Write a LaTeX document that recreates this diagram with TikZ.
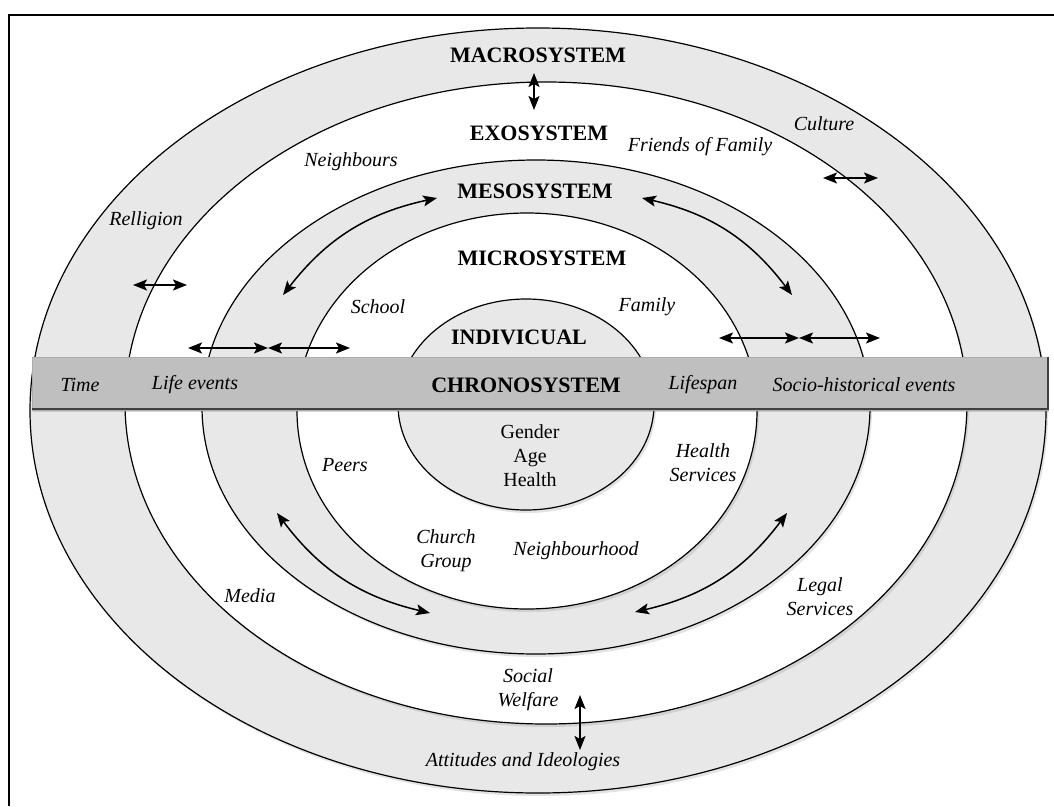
\documentclass[tikz,border=0pt]{standalone}
\usepackage{fontspec}
\setmainfont{Liberation Serif}
\usetikzlibrary{arrows.meta,shadows}

\begin{document}
\begin{tikzpicture}[
  x=1pt,y=-1pt,
  every node/.style={align=center,inner sep=1pt},
  sysname/.style={font=\fontsize{22}{24}\selectfont\bfseries},
  place/.style={font=\fontsize{20}{24}\selectfont\itshape},
  trait/.style={font=\fontsize{20}{24}\selectfont},
  ring/.style={draw=black,line width=1.2pt,drop shadow={shadow xshift=2pt,shadow yshift=-3pt,opacity=0.22}},
  light/.style={fill=gray!18},
  link/.style={{Stealth[length=14pt,width=11pt,inset=3pt]}-{Stealth[length=14pt,width=11pt,inset=3pt]},line width=1.5pt}
]
\useasboundingbox (0,0) rectangle (1054,806);
\fill[white] (0,0) rectangle (1054,806);
\draw[line width=1.3pt] (9,806) |- (1054,15);

% nested systems
\path[ring,light] (538,410.5) ellipse [x radius=508,y radius=382.5];
\path[ring,fill=white] (546,403) ellipse [x radius=421,y radius=321];
\path[ring,light] (536,407) ellipse [x radius=334,y radius=247];
\path[ring,fill=white] (527,411) ellipse [x radius=230,y radius=198];
\path[ring,light] (526,404.5) ellipse [x radius=128,y radius=105.5];

% time bar
\path[fill=gray!50,draw=gray!65,line width=1pt,drop shadow={shadow xshift=1pt,shadow yshift=-2pt,opacity=0.3}] (32,357) rectangle (1048,410);
\draw[black!75,line width=2pt] (32,409) -- (1048,409) -- (1048,357);

\node[sysname] (macro) at (538,55) {MACROSYSTEM};
\node[sysname] (exo) at (539,133) {EXOSYSTEM};
\node[sysname] (meso) at (535,191) {MESOSYSTEM};
\node[sysname] (micro) at (542,258) {MICROSYSTEM};
\node[sysname] (indiv) at (519,337) {INDIVICUAL};
\node[sysname] (chrono) at (526,385) {CHRONOSYSTEM};

\node[place] (culture) at (824,124) {Culture};
\node[place] (religion) at (146,221) {Relligion};
\node[place] (neighbours) at (351,162) {Neighbours};
\node[place] (friends) at (700,147) {Friends of Family};
\node[place] (school) at (378,307) {School};
\node[place] (family) at (647,307) {Family};
\node[place] (time) at (80,385) {Time};
\node[place] (life) at (195,385) {Life events};
\node[place] (lifespan) at (703,385) {Lifespan};
\node[place] (socio) at (864,385) {Socio-historical events};
\node[trait] (traits) at (530,456) {Gender\\Age\\Health};
\node[place] (peers) at (345,465) {Peers};
\node[place] (health) at (703,463) {Health\\Services};
\node[place] (church) at (446,551) {Church\\Group};
\node[place] (hood) at (576,551) {Neighbourhood};
\node[place] (media) at (250,596) {Media};
\node[place] (legal) at (820,597) {Legal\\Services};
\node[place] (welfare) at (528,690) {Social\\Welfare};
\node[place] (attitudes) at (523,762) {Attitudes and Ideologies};

\coordinate (macroT) at (534,73);
\coordinate (macroB) at (534,110);
\coordinate (cultL) at (823,178);
\coordinate (cultR) at (878,178);
\coordinate (relL) at (133,285);
\coordinate (relR) at (187,285);
\coordinate (barL1) at (188,348);
\coordinate (barL2) at (268,348);
\coordinate (barL3) at (350,348);
\coordinate (barR1) at (719,338);
\coordinate (barR2) at (799,338);
\coordinate (barR3) at (880,338);
\coordinate (welT) at (580,695);
\coordinate (welB) at (580,750);
\coordinate (ulA) at (283,295);
\coordinate (ulB) at (437,198);
\coordinate (urA) at (642,198);
\coordinate (urB) at (792,295);
\coordinate (llA) at (277,513);
\coordinate (llB) at (430,613);
\coordinate (lrA) at (787,513);
\coordinate (lrB) at (635,612);

\draw[link] (macroT) -- (macroB);
\draw[link] (cultL) -- (cultR);
\draw[link] (relL) -- (relR);
\draw[link] (barL1) -- (barL2);
\draw[link] (barL2) -- (barL3);
\draw[link] (barR1) -- (barR2);
\draw[link] (barR2) -- (barR3);
\draw[link] (welT) -- (welB);
\draw[link] (ulA) to[bend left=20] (ulB);
\draw[link] (urA) to[bend left=20] (urB);
\draw[link] (llA) to[bend right=20] (llB);
\draw[link] (lrA) to[bend left=20] (lrB);
\end{tikzpicture}
\end{document}
